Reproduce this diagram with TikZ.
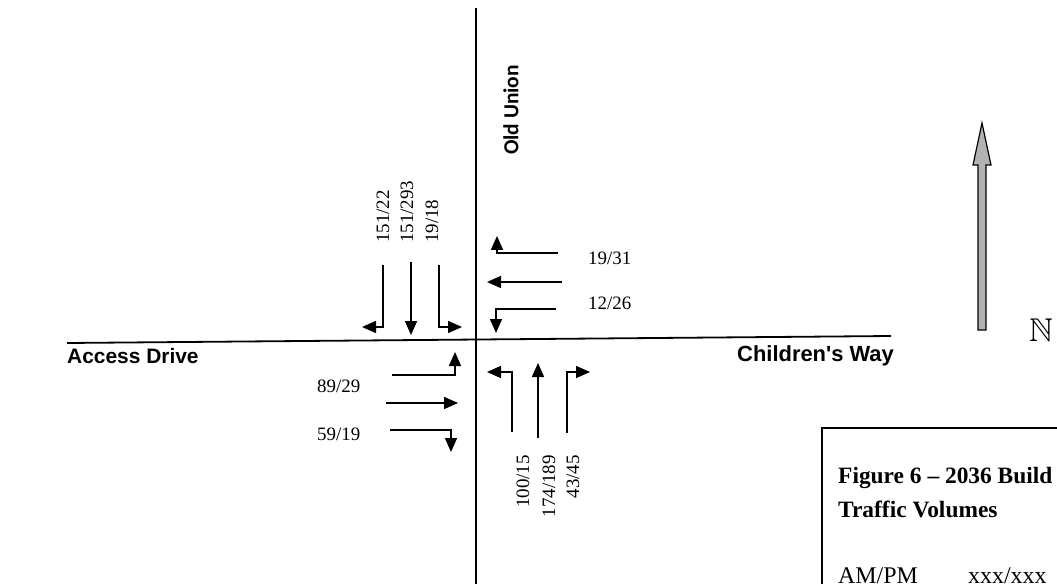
\documentclass[tikz,border=0pt]{standalone}
\usepackage{fontspec}
\usepackage{amssymb}
\setmainfont{Liberation Serif}
\newfontfamily\roadfont{Liberation Sans}
\newfontfamily\ousfont{Carlito}
\usetikzlibrary{arrows.meta}

\tikzset{
  road/.style={line width=1.8bp},
  mv/.style={line width=1.6bp, -{Triangle[length=14bp,width=12bp]}},
  vol/.style={font=\fontsize{19}{22}\selectfont, inner sep=0pt},
  street/.style={font=\roadfont\bfseries\fontsize{21}{24}\selectfont, inner sep=0pt},
  caption/.style={font=\bfseries\fontsize{23.5}{28}\selectfont, inner sep=0pt, anchor=base west},
  legendtext/.style={font=\fontsize{24}{28}\selectfont, inner sep=0pt, anchor=base west},
}

\begin{document}
\begin{tikzpicture}[x=1bp,y=-1bp]
\useasboundingbox (0,0) rectangle (1057,584);

% roads
\coordinate (nTop) at (476,8);
\coordinate (sBot) at (476,590);
\coordinate (wEnd) at (67,343);
\coordinate (eEnd) at (891,336);
\draw[road] (nTop) -- (sBot);
\draw[road] (wEnd) -- (eEnd);

% street names
\node[font=\ousfont\bfseries\fontsize{21.5}{24}\selectfont, inner sep=0pt, rotate=90] (oldunion) at (511,110) {Old Union};
\node[street, anchor=west] (access) at (67,356) {Access Drive};
\node[street, anchor=west, font=\roadfont\bfseries\fontsize{22}{24}\selectfont] (children) at (737,356) {Children's Way};

% southbound movements
\draw[mv] (383,265) |- (362,327);
\draw[mv] (411,262) -- (411,335);
\draw[mv] (439,265) |- (462,327);
\node[vol, rotate=90, anchor=west] (sbR) at (383,243) {151/22};
\node[vol, rotate=90, anchor=west] (sbT) at (407,243) {151/293};
\node[vol, rotate=90, anchor=west] (sbL) at (432,243) {19/18};

% westbound movements
\draw[mv] (558,253) -| (497,236);
\draw[mv] (562,282) -- (487,282);
\draw[mv] (556,309) -| (496,333);
\node[vol, anchor=west] (wbR) at (588,258) {19/31};
\node[vol, anchor=west] (wbL) at (588,303) {12/26};

% eastbound movements
\draw[mv] (392,375) -| (455,352);
\draw[mv] (386,403) -- (458,403);
\draw[mv] (390,430) -| (451,452);
\node[vol, anchor=west] (ebL) at (317,386) {89/29};
\node[vol, anchor=west] (ebR) at (317,434) {59/19};

% northbound movements
\draw[mv] (512,432) |- (487,372);
\draw[mv] (538,438) -- (538,363);
\draw[mv] (567,433) |- (590,372);
\node[vol, rotate=90, anchor=east] (nbL) at (523,455) {100/15};
\node[vol, rotate=90, anchor=east] (nbT) at (549,455) {174/189};
\node[vol, rotate=90, anchor=east] (nbR) at (573,455) {43/45};

% north arrow
\draw[line width=1.2bp, fill=gray!60]
  (978,330) -- (978,165) -- (973,165) -- (982,123) -- (991,165) -- (986,165) -- (986,330) -- cycle;
\node[inner sep=0pt, font=\fontsize{33}{36}\selectfont] (north) at (1041,330) {$\mathbb{N}$};

% legend box
\draw[road] (822,590) -- (822,428) -- (1062,428);
\node[caption] (cap1) at (838,483) {Figure 6 -- 2036 Build};
\node[caption] (cap2) at (838,517) {Traffic Volumes};
\node[legendtext] (amlbl) at (838,583) {AM/PM};
\node[legendtext] (amval) at (968,583) {xxx/xxx};

\end{tikzpicture}
\end{document}
